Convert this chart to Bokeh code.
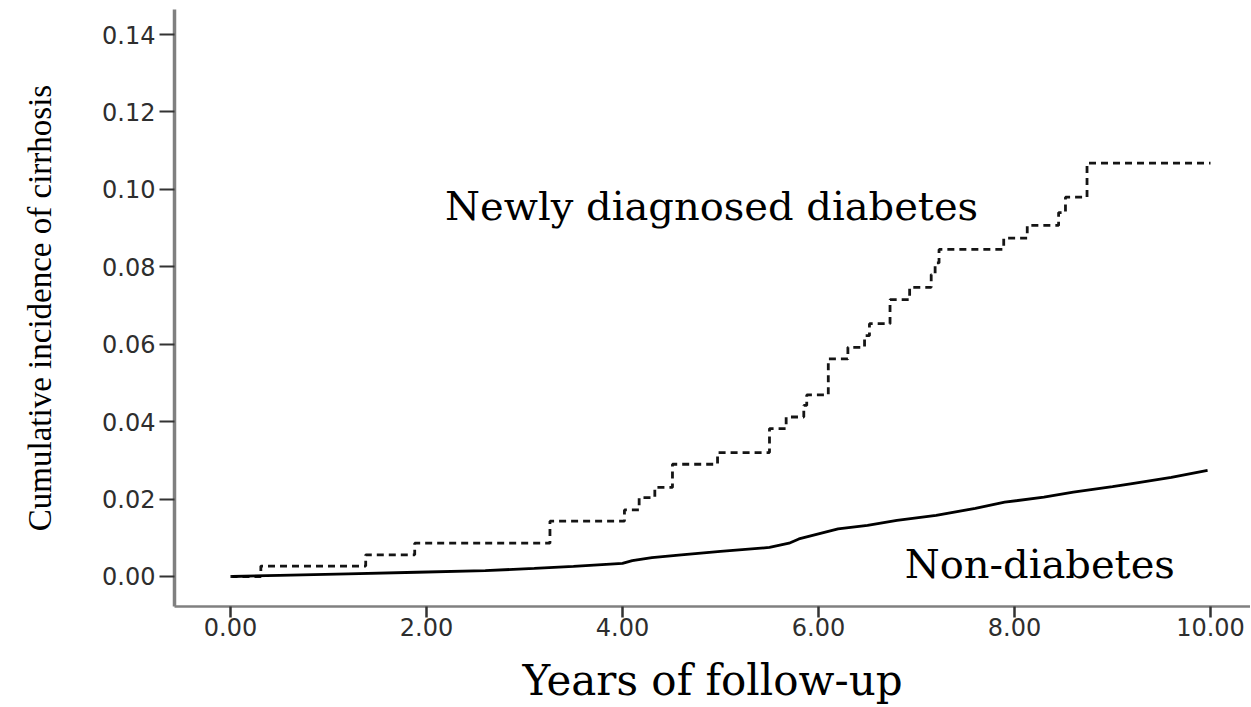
from bokeh.plotting import figure
from bokeh.models import Range1d, FixedTicker, PrintfTickFormatter, Label
from bokeh.embed import file_html
from bokeh.resources import INLINE

# Newly diagnosed diabetes (step function: value after each time)
new_t = [0.0, 0.31, 1.38, 1.88, 3.26, 4.02, 4.17, 4.33, 4.51, 4.97, 5.50, 5.67,
         5.85, 5.88, 6.10, 6.30, 6.47, 6.52, 6.73, 6.93, 7.15, 7.19, 7.23, 7.89,
         8.13, 8.45, 8.52, 8.74, 10.0]
new_v = [0.0, 0.0027, 0.0056, 0.0086, 0.0143, 0.0172, 0.0204, 0.0230, 0.0290, 0.0320,
         0.0382, 0.0412, 0.0442, 0.0469, 0.0562, 0.0592, 0.0622, 0.0653, 0.0715, 0.0747,
         0.0780, 0.0810, 0.0845, 0.0874, 0.0907, 0.0940, 0.0980, 0.1068, 0.1068]

# Non-diabetes
non_t = [0.02, 0.5, 1.2, 1.9, 2.6, 3.1, 3.5, 4.0, 4.1, 4.3, 4.6, 5.0, 5.5, 5.7,
         5.8, 6.0, 6.2, 6.5, 6.8, 7.2, 7.6, 7.9, 8.3, 8.6, 9.0, 9.2, 9.6, 9.97]
non_v = [0.0, 0.0003, 0.0007, 0.0011, 0.0015, 0.0021, 0.0026, 0.0034, 0.0041, 0.0049,
         0.0056, 0.0065, 0.0075, 0.0086, 0.0097, 0.0110, 0.0123, 0.0132, 0.0145, 0.0158,
         0.0176, 0.0192, 0.0205, 0.0218, 0.0232, 0.0240, 0.0256, 0.0274]

x_ticks = [0, 2, 4, 6, 8, 10]
y_ticks = [0.0, 0.02, 0.04, 0.06, 0.08, 0.10, 0.12, 0.14]

x_title = "Years of follow-up"
y_title = "Cumulative incidence of cirrhosis"
label_texts = ["Newly diagnosed diabetes", "Non-diabetes"]
label_x = [2.19, 6.88]
label_y = [0.0956, 0.0031]

p = figure(width=1250, height=707, output_backend="svg", toolbar_location=None,
           x_range=Range1d(-0.571, 10.408), y_range=Range1d(-0.00775, 0.14647),
           min_border_left=174, min_border_top=9, min_border_right=0, min_border_bottom=101)
p.outline_line_color = None
p.xgrid.visible = False
p.ygrid.visible = False
p.background_fill_color = "white"
p.border_fill_color = "white"

p.step(new_t, new_v, mode="after", line_color="#151515", line_width=2.8, line_dash="7 5")
p.line(non_t, non_v, line_color="black", line_width=2.8)

for t, xx, yy in zip(label_texts, label_x, label_y):
    p.add_layout(Label(x=xx, y=yy, text=t, text_font="DejaVu Serif", text_font_size="40px",
                       text_color="black", text_baseline="alphabetic", text_align="left"))

for ax in (p.xaxis[0], p.yaxis[0]):
    ax.axis_line_color = "#808080"
    ax.major_tick_line_color = "#333333"
    ax.major_tick_in = 0
    ax.minor_tick_line_color = None
    ax.major_label_text_font = "DejaVu Sans"
    ax.major_label_text_font_size = "24px"
    ax.major_label_text_color = "#2e2e2e"
    ax.formatter = PrintfTickFormatter(format="%.2f")
    ax.axis_label_text_font_style = "normal"
    ax.axis_label_text_color = "black"

p.xaxis.ticker = FixedTicker(ticks=x_ticks)
p.yaxis.ticker = FixedTicker(ticks=y_ticks)

p.xaxis.axis_line_width = 2.5
p.yaxis.axis_line_width = 3.5
p.xaxis.major_tick_out = 11
p.xaxis.major_tick_line_width = 2.5
p.yaxis.major_tick_out = 15
p.yaxis.major_tick_line_width = 2
p.xaxis.major_label_standoff = 0
p.yaxis.major_label_standoff = 4

p.xaxis.axis_label = x_title
p.xaxis.axis_label_text_font = "DejaVu Serif"
p.xaxis.axis_label_text_font_size = "42px"
p.xaxis.axis_label_text_line_height = 0.72
p.xaxis.axis_label_standoff = 17

p.yaxis.axis_label = y_title
p.yaxis.axis_label_text_font = "Liberation Serif"
p.yaxis.axis_label_text_font_size = "33px"
p.yaxis.axis_label_standoff = 41

open("out.html", "w").write(file_html(p, INLINE))
